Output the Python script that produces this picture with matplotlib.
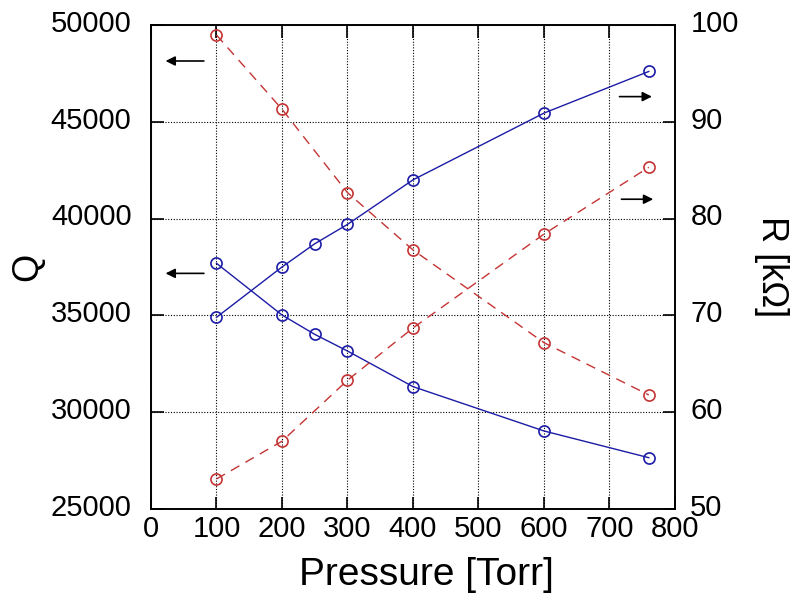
import matplotlib.pyplot as plt
import matplotlib.transforms as mtransforms

plt.rcParams['font.family'] = ['Liberation Sans', 'DejaVu Sans']

# Pressure values [Torr]
p_red = [100, 200, 300, 400, 600, 760]
p_blue = [100, 200, 250, 300, 400, 600, 760]

# Q series (left axis)
q_red = [49480, 45650, 41340, 38380, 33590, 30890]
q_blue = [37690, 35020, 34020, 33160, 31320, 29030, 27650]

# R series (right axis) [kOhm]
r_red = [53.1, 57.0, 63.3, 68.7, 78.4, 85.3]
r_blue = [69.8, 75.0, 77.4, 79.4, 84.0, 90.9, 95.2]

blue = '#1c1ca6'
red = '#c43434'

fig = plt.figure(figsize=(7.93, 6.02), dpi=100)
ax = fig.add_axes([0.1904, 0.1545, 0.6608, 0.804])
ax2 = ax.twinx()

ax.plot(p_red, q_red, color=red, lw=1.0, ls=(0, (7, 5)), marker='o',
        markersize=8, markerfacecolor='none', markeredgecolor=red, markeredgewidth=1.2)
ax.plot(p_blue, q_blue, color=blue, lw=1.0, marker='o',
        markersize=8, markerfacecolor='none', markeredgecolor=blue, markeredgewidth=1.2)
ax2.plot(p_red, r_red, color=red, lw=1.0, ls=(0, (7, 5)), marker='o',
         markersize=8, markerfacecolor='none', markeredgecolor=red, markeredgewidth=1.2)
ax2.plot(p_blue, r_blue, color=blue, lw=1.0, marker='o',
         markersize=8, markerfacecolor='none', markeredgecolor=blue, markeredgewidth=1.2)

ax.set_xlim(0, 800)
ax.set_ylim(25000, 50000)
ax2.set_ylim(50, 100)
ax.set_xticks(range(0, 801, 100))
ax.set_yticks(range(25000, 50001, 5000))
ax2.set_yticks(range(50, 101, 10))

ax.grid(True, color='black', ls=(0, (1, 1.5)), lw=0.8)
ax.tick_params(direction='in', length=9, width=1.2, labelsize=21, top=True)
ax.tick_params(axis='x', pad=4)
ax.tick_params(axis='y', right=False, pad=14)
ax2.tick_params(direction='in', length=9, width=1.2, labelsize=21, pad=11)
for a in (ax, ax2):
    for s in a.spines.values():
        s.set_linewidth(1.2)

# y tick labels sit a few pixels above their ticks in the original
off = mtransforms.ScaledTranslation(0, 3 / 72, fig.dpi_scale_trans)
for lbl in ax.get_yticklabels() + ax2.get_yticklabels():
    lbl.set_transform(lbl.get_transform() + off)

ax.set_xlabel('Pressure [Torr]', fontsize=28)
ax.xaxis.set_label_coords(0.525, -0.1)
ax.set_ylabel('Q', fontsize=26, labelpad=4)
ax2.set_ylabel('R [kΩ]', fontsize=26, rotation=270, labelpad=36)

# arrows pointing to the axis each curve belongs to
arrow = dict(arrowstyle='-|>', color='black', lw=1.2, mutation_scale=14)
ax.annotate('', xy=(18, 48140), xytext=(85, 48140), arrowprops=arrow)
ax.annotate('', xy=(18, 37170), xytext=(85, 37170), arrowprops=arrow)
ax2.annotate('', xy=(769, 92.6), xytext=(711, 92.6), arrowprops=arrow)
ax2.annotate('', xy=(771, 82.0), xytext=(714, 82.0), arrowprops=arrow)

fig.savefig('out.png', dpi=100)
